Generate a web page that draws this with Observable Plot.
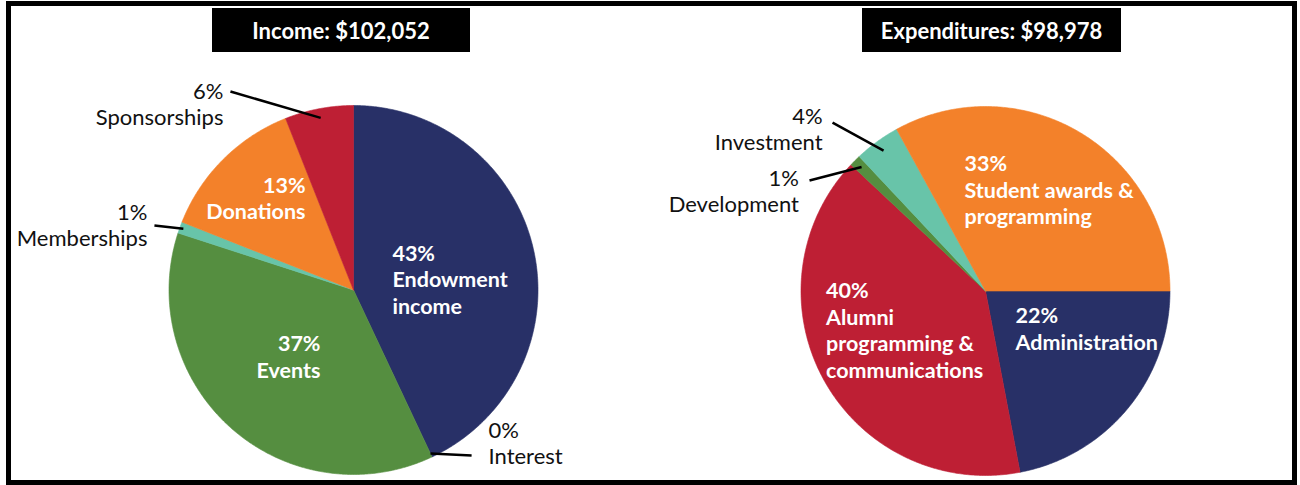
<!DOCTYPE html>
<html><head><meta charset="utf-8">
<script src="https://cdn.jsdelivr.net/npm/d3@7"></script>
<script src="https://cdn.jsdelivr.net/npm/@observablehq/plot@0.6"></script>
<style>
html,body{margin:0;padding:0;background:#fff;}
#wrap{position:relative;width:1300px;height:485px;overflow:hidden;font-family:Lato,sans-serif;}
#frame{position:absolute;left:6px;top:1px;width:1291px;height:484px;border:5px solid #000;box-sizing:border-box;pointer-events:none;z-index:5;}
.panel{position:absolute;top:0;width:650px;height:485px;}
.panel svg{position:absolute;left:0;top:0;}
.title{position:absolute;top:8px;height:44px;background:#000;color:#fff;font:700 22px Lato,sans-serif;display:flex;align-items:center;justify-content:center;z-index:3;white-space:nowrap;}
</style></head>
<body><div id="wrap"><div id="frame"></div></div>
<script>
// ---- Data ----
const incomeTitle = "Income: $102,052";
const incomeCategories = ["Endowment income", "Interest", "Events", "Memberships", "Donations", "Sponsorships"];
const incomeLabelNames = ["Endowment\nincome", "Interest", "Events", "Memberships", "Donations", "Sponsorships"];
const incomePercents = [43, 0, 37, 1, 13, 6];
const incomeColors = ["#283067", "#283067", "#558E40", "#68C4A9", "#F3812A", "#BE1F34"];

const expTitle = "Expenditures: $98,978";
const expCategories = ["Administration", "Alumni programming & communications", "Development", "Investment", "Student awards & programming"];
const expLabelNames = ["Administration", "Alumni\nprogramming &\ncommunications", "Development", "Investment", "Student awards &\nprogramming"];
const expPercents = [22, 40, 1, 4, 33];
const expColors = ["#283067", "#BE1F34", "#558E40", "#68C4A9", "#F3812A"];

// ---- Layout (unit-circle coordinates for label anchors) ----
const incomeLayout = [
  {inside: true,  x: 0.211,  y: 0.060,  anchor: "start"},
  {inside: false, x: 0.732,  y: -0.830, anchor: "start", lx: 0.640, ly: -0.897, r: 0.98, atStart: true},
  {inside: true,  x: -0.179, y: -0.357, anchor: "end"},
  {inside: false, x: -1.117, y: 0.355,  anchor: "end", lx: -1.079, ly: 0.350, r: 0.98},
  {inside: true,  x: -0.260, y: 0.502,  anchor: "end"},
  {inside: false, x: -0.705, y: 1.010,  anchor: "end", lx: -0.667, ly: 1.076, r: 0.95}
];
const expLayout = [
  {inside: true,  x: 0.163,  y: -0.200, anchor: "start"},
  {inside: true,  x: -0.864, y: -0.208, anchor: "start"},
  {inside: false, x: -1.011, y: 0.542,  anchor: "end", lx: -0.954, ly: 0.599, r: 0.95},
  {inside: false, x: -0.883, y: 0.880,  anchor: "end", lx: -0.829, ly: 0.913, r: 0.94},
  {inside: true,  x: -0.114, y: 0.553,  anchor: "start"}
];

function pie({title, percents, names, colors, startDeg, layout, cx, cy, R, left, boxL, boxR}) {
  const W = 650, H = 485;
  const total = d3.sum(percents);
  let acc = 0;
  const slices = percents.map((v, i) => {
    const a0 = startDeg + acc / total * 360; acc += v;
    const a1 = startDeg + acc / total * 360;
    return {i, a0, a1, mid: (a0 + a1) / 2};
  });
  const pts = [];
  slices.forEach(s => {
    if (s.a1 - s.a0 <= 0) return;
    pts.push({k: s.i, x: 0, y: 0, c: colors[s.i]});
    const n = Math.max(2, Math.ceil((s.a1 - s.a0) * 2));
    for (let j = 0; j <= n; j++) {
      const a = (s.a0 + (s.a1 - s.a0) * j / n) * Math.PI / 180;
      pts.push({k: s.i, x: Math.sin(a), y: Math.cos(a), c: colors[s.i]});
    }
    pts.push({k: s.i, x: 0, y: 0, c: colors[s.i]});
  });
  const labels = slices.map(s => ({...layout[s.i], text: `${percents[s.i]}%\n${names[s.i]}`, s}));
  const outside = labels.filter(d => !d.inside);
  const leaders = outside.map(d => {
    const a = (d.atStart ? d.s.a0 : d.s.mid) * Math.PI / 180;
    return {x1: d.lx, y1: d.ly, x2: d.r * Math.sin(a), y2: d.r * Math.cos(a)};
  });
  const textMarks = [];
  for (const inside of [true, false]) {
    for (const anchor of ["start", "end"]) {
      const sub = labels.filter(d => d.inside === inside && d.anchor === anchor);
      if (!sub.length) continue;
      textMarks.push(Plot.text(sub, {
        x: "x", y: "y", text: "text", textAnchor: anchor, lineAnchor: "middle",
        lineHeight: inside ? 1.24 : 1.18,
        fill: inside ? "#fff" : "#111", fontFamily: "Lato",
        fontWeight: inside ? 700 : 400, fontSize: inside ? 21.5 : 22
      }));
    }
  }
  const chart = Plot.plot({
    width: W, height: H, margin: 0,
    style: {background: "transparent", overflow: "visible"},
    x: {domain: [-cx / R, (W - cx) / R], axis: null},
    y: {domain: [-(H - cy) / R, cy / R], axis: null},
    color: {type: "identity"},
    marks: [
      Plot.line(pts, {x: "x", y: "y", z: "k", fill: "c", stroke: "c", strokeWidth: 0.6, curve: "linear"}),
      Plot.link(leaders, {x1: "x1", y1: "y1", x2: "x2", y2: "y2", stroke: "#000", strokeWidth: 2.5}),
      ...textMarks
    ]
  });
  const panel = document.createElement("div");
  panel.className = "panel";
  panel.style.left = left + "px";
  panel.appendChild(chart);
  const t = document.createElement("div");
  t.className = "title";
  t.style.left = boxL + "px";
  t.style.width = (boxR - boxL) + "px";
  t.textContent = title;
  panel.appendChild(t);
  document.getElementById("wrap").appendChild(panel);
}

pie({title: incomeTitle, percents: incomePercents, names: incomeLabelNames, colors: incomeColors, startDeg: 0,
     layout: incomeLayout, cx: 353, cy: 289.5, R: 184.5, left: 0, boxL: 212, boxR: 470});
pie({title: expTitle, percents: expPercents, names: expLabelNames, colors: expColors, startDeg: 90,
     layout: expLayout, cx: 335, cy: 290.5, R: 184.5, left: 650, boxL: 212, boxR: 471});
</script>
</body></html>
